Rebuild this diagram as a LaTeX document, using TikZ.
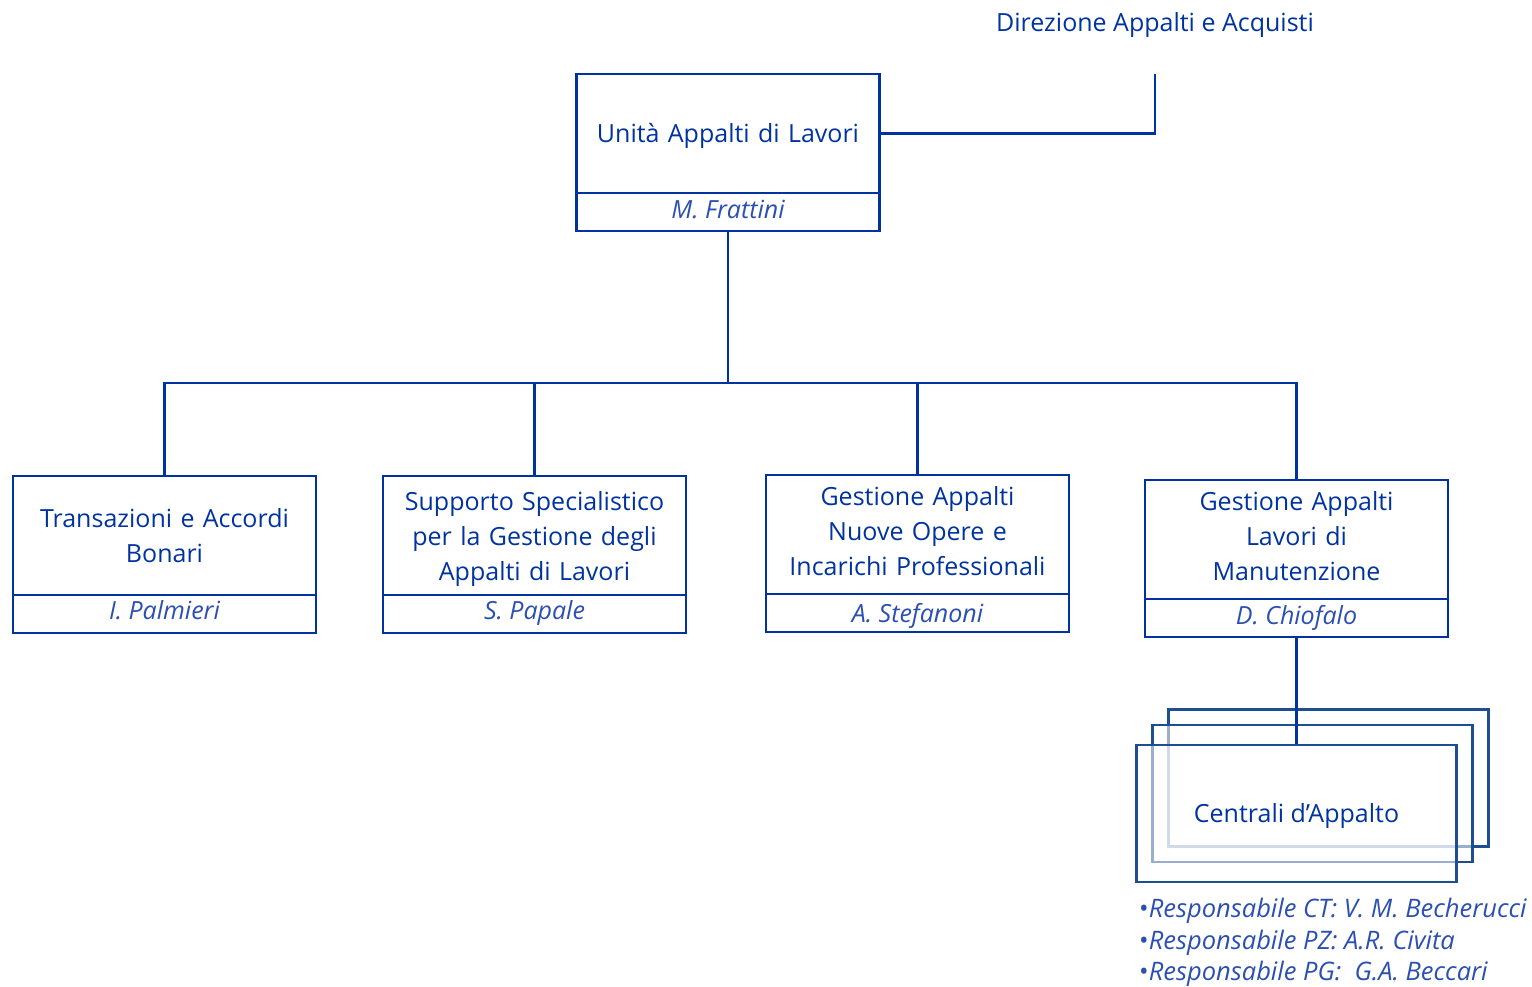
\documentclass[tikz,border=0pt]{standalone}
\usepackage{fontspec}
\setmainfont{Open Sans}
\definecolor{mainblue}{HTML}{0033A0}
\definecolor{nameblue}{HTML}{2B4FB3}
\definecolor{navy}{HTML}{1D4E8F}
\begin{document}
\begin{tikzpicture}[x=1pt,y=1pt,
  conn/.style={draw=mainblue,line width=2.6pt},
  upbox/.style={draw=mainblue,line width=2.6pt,outer sep=0pt,minimum width=303pt,minimum height=119pt,inner sep=0pt},
  namebox/.style={draw=mainblue,line width=2.6pt,outer sep=0pt,minimum width=303pt,minimum height=38pt,inner sep=0pt,anchor=north},
  boxtext/.style={text width=295pt,align=center,inner sep=0pt,text=mainblue,font=\fontsize{25}{35}\selectfont},
  nametext/.style={inner sep=0pt,text=nameblue,font=\fontsize{25}{28}\selectfont\itshape},
  stackbox/.style={draw=navy,line width=2.6pt,fill=white,fill opacity=0.55,
    minimum width=320pt,minimum height=137pt,inner sep=0pt},
  plain/.style={inner sep=0pt,text=mainblue,font=\fontsize{25}{35}\selectfont}]
\useasboundingbox (0,0) rectangle (1532,-987);
% top
\node[plain] (dir) at (1155,-25) {Direzione Appalti e Acquisti};
\coordinate (dirc) at (1155,-74);
\node[upbox] (u0) at (728,-133.5) {};
\node[boxtext] (t0) at ([yshift=-2]u0.center) {Unità Appalti di Lavori};
\node[namebox] (n0) at (u0.south) {};
\node[nametext] (m0) at ([yshift=3]n0.center) {M. Frattini};
\draw[conn] (u0.east) -| (dirc);
% level 2
\node[upbox] (b1) at (164.5,-535.5) {};
\node[boxtext] (t1) at (b1.center) {Transazioni e Accordi\\Bonari};
\node[namebox] (n1) at (b1.south) {};
\node[nametext] (m1) at ([yshift=4]n1.center) {I. Palmieri};
\node[upbox] (b2) at (534.5,-535.5) {};
\node[boxtext] (t2) at ([yshift=-3.5]b2.center) {Supporto Specialistico\\per la Gestione degli\\Appalti di Lavori};
\node[namebox] (n2) at (b2.south) {};
\node[nametext] (m2) at ([yshift=1]n2.center) {S. Papale};
\node[upbox] (b3) at (917.5,-534.5) {};
\node[boxtext] (t3) at ([yshift=3]b3.center) {Gestione Appalti\\Nuove Opere e\\Incarichi Professionali};
\node[namebox] (n3) at (b3.south) {};
\node[nametext] (m3) at ([yshift=-3]n3.center) {A. Stefanoni};
\node[upbox] (b4) at (1296.5,-539.5) {};
\node[boxtext] (t4) at ([yshift=3.5]b4.center) {Gestione Appalti\\Lavori di\\Manutenzione};
\node[namebox] (n4) at (b4.south) {};
\node[nametext] (m4) at ([yshift=0]n4.center) {D. Chiofalo};
% bus
\coordinate (bus) at (728,-383);
\draw[conn] (n0.south) -- (bus);
\draw[conn] (b1.north) |- (bus);
\draw[conn] (b4.north) |- (bus);
\draw[conn] (b2.north) -- (b2.north |- bus);
\draw[conn] (b3.north) -- (b3.north |- bus);
% stack
\node[stackbox] (s3) at (1328.5,-778) {};
\node[stackbox] (s2) at (1312.5,-793.5) {};
\node[stackbox] (s1) at (1296.5,-813.5) {};
\node[plain] (c1) at ([yshift=-2]s1.center) {Centrali d’Appalto};
\draw[conn] (n4.south) -- (s1.north);
% responsibles
\node[anchor=north west,inner sep=0pt,align=left,text=nameblue,font=\fontsize{25.5}{31.5}\selectfont] (resp) at (1139,-898)
  {{\upshape •}\itshape Responsabile CT: V. M. Becherucci\\
   {\upshape •}\itshape Responsabile PZ: A.R. Civita\\
   {\upshape •}\itshape Responsabile PG:~~G.A. Beccari};
\end{tikzpicture}
\end{document}
